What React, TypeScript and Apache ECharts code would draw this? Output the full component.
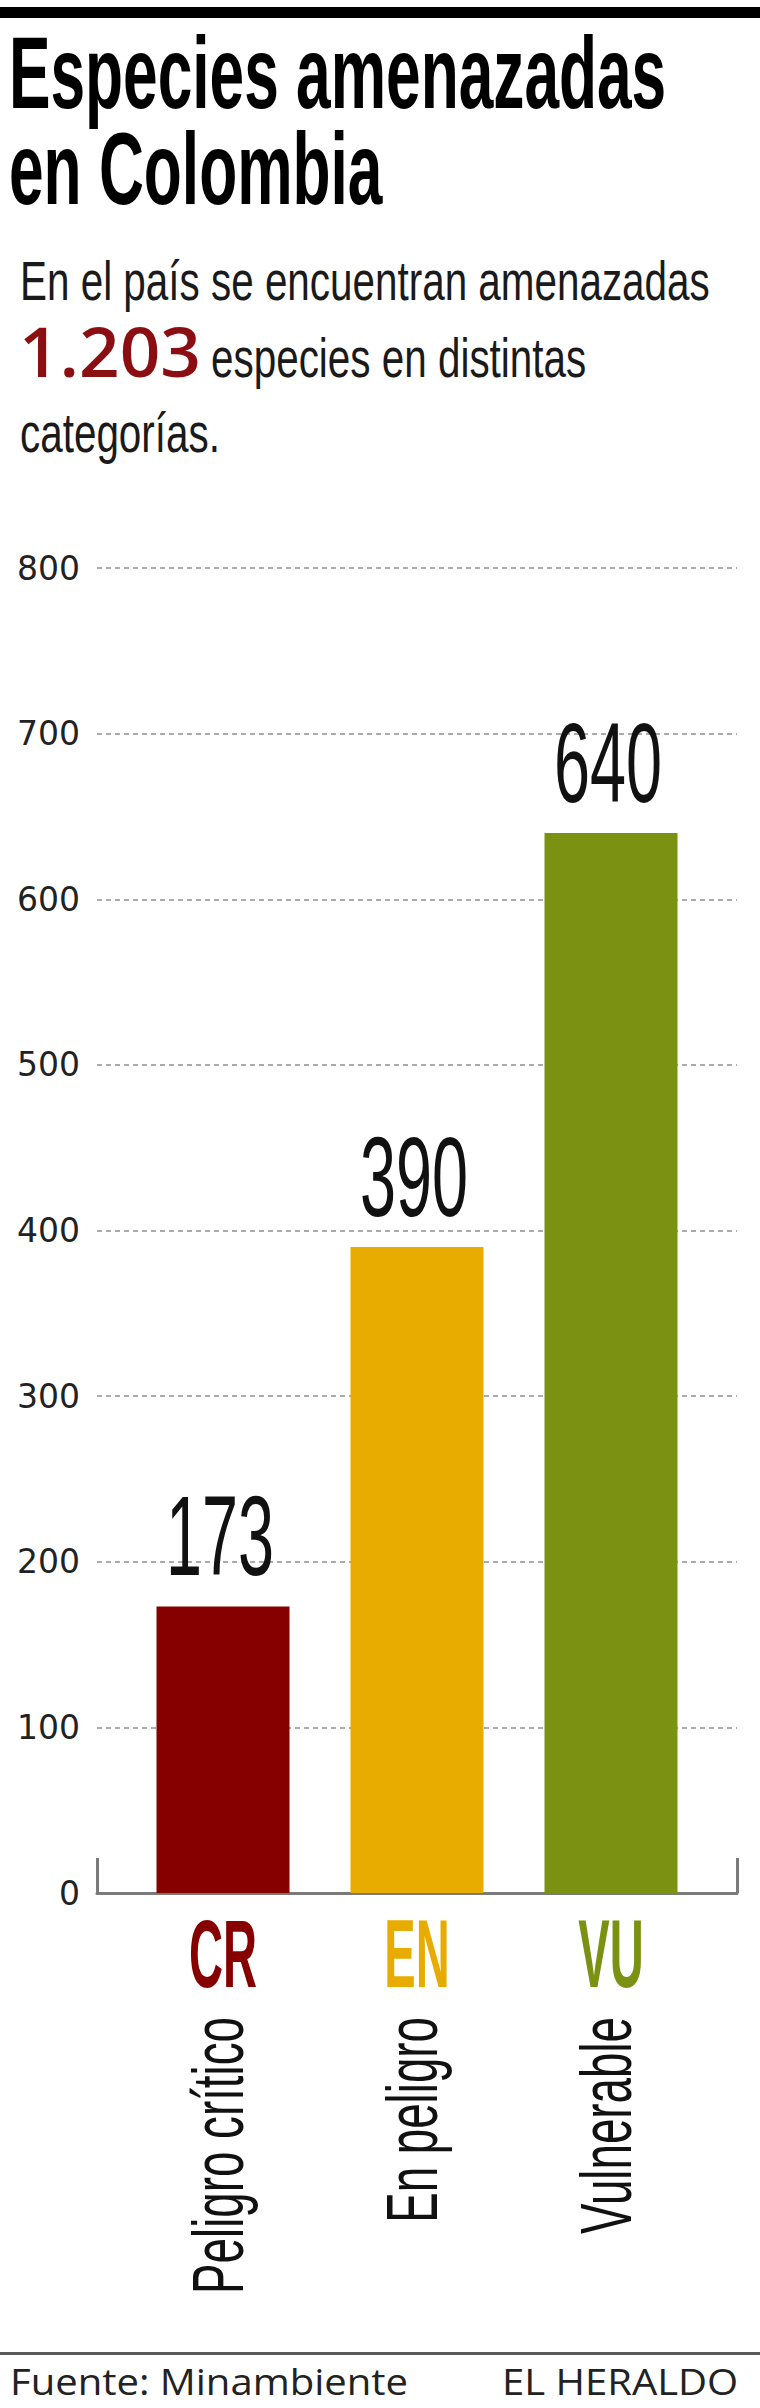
import React, { useEffect, useRef } from 'react';
import * as echarts from 'echarts';

// ---------- data ----------
const TITLE_LINES = ['Especies amenazadas', 'en Colombia'];
const SUB_LINE1 = 'En el país se encuentran amenazadas';
const SUB_TOTAL = '1.203';
const SUB_LINE2 = 'especies en distintas';
const SUB_LINE3 = 'categorías.';
const CODES = ['CR', 'EN', 'VU'];
const NAMES = ['Peligro crítico', 'En peligro', 'Vulnerable'];
const VALUES = [173, 390, 640];
const COLORS = ['#870000', '#E8AC00', '#7B9111'];
const Y_MIN = 0;
const Y_MAX = 800;
const Y_STEP = 100;
const SOURCE = 'Fuente: Minambiente';
const BRAND = 'EL HERALDO';

// ---------- fonts ----------
const LIB = "'Liberation Sans', Arial, sans-serif";
const OPEN = "'Open Sans', 'Noto Sans', sans-serif";

let _ctx: CanvasRenderingContext2D | null = null;
function ctx() {
  if (!_ctx) _ctx = document.createElement('canvas').getContext('2d');
  return _ctx as CanvasRenderingContext2D;
}
function metrics(family: string, weight: string, size: number) {
  const c = ctx();
  c.font = `${weight} ${size}px ${family}`;
  const m: any = c.measureText('H');
  const cap = m.actualBoundingBoxAscent || size * 0.716;
  const fa = m.fontBoundingBoxAscent ?? size * 0.905;
  const fd = m.fontBoundingBoxDescent ?? size * 0.212;
  return { cap, central: (fa - fd) / 2 };
}
function sizeForCap(family: string, weight: string, capH: number) {
  const m = metrics(family, weight, 100);
  return (capH * 100) / m.cap;
}
function textWidth(text: string, family: string, weight: string, size: number) {
  const c = ctx();
  c.font = `${weight} ${size}px ${family}`;
  return c.measureText(text).width;
}
type TS = {
  text: string; family: string; weight: string; capH: number; baseline: number;
  x: number; scale: number; fill: string; align?: string;
};
function makeText(o: TS) {
  const size = sizeForCap(o.family, o.weight, o.capH);
  const m = metrics(o.family, o.weight, size);
  return {
    type: 'text',
    x: o.x,
    y: o.baseline - m.central,
    scaleX: o.scale,
    scaleY: 1,
    silent: true,
    style: {
      text: o.text, fontFamily: o.family, fontWeight: o.weight, fontSize: size,
      fill: o.fill, align: o.align || 'left', verticalAlign: 'middle',
    },
  };
}
function fit(text: string, family: string, weight: string, capH: number, target: number) {
  const size = sizeForCap(family, weight, capH);
  return target / textWidth(text, family, weight, size);
}

export default function App() {
  const ref = useRef<HTMLDivElement>(null);
  useEffect(() => {
    if (!ref.current) return;
    const chart = echarts.init(ref.current, null, { renderer: 'svg', width: 760, height: 2408 });

    // text scales
    const titleScale = fit(TITLE_LINES[0], LIB, 'bold', 72, 657);
    const subScale = fit(SUB_LINE1, LIB, 'normal', 38, 690);
    const totalScale = fit(SUB_TOTAL, OPEN, '600', 50, 182);
    const footScale = fit(SOURCE, OPEN, 'normal', 27, 398);

    // chart label styles
    const valSize = sizeForCap(LIB, 'normal', 78);
    const valM = metrics(LIB, 'normal', valSize);
    const valScale = fit('390', LIB, 'normal', 78, 108);
    const codeSize = sizeForCap(LIB, 'bold', 67);
    const codeM = metrics(LIB, 'bold', codeSize);
    const codeScale = fit('CR', LIB, 'bold', 67, 68);
    const descSize = sizeForCap(LIB, 'normal', 50);
    const descM = metrics(LIB, 'normal', descSize);
    const descScale = fit('En peligro', LIB, 'normal', 50, 206);

    const graphics: any[] = [
      { type: 'rect', shape: { x: 0, y: 7, width: 760, height: 11 }, style: { fill: '#000' }, silent: true },
      makeText({ text: TITLE_LINES[0], family: LIB, weight: 'bold', capH: 72, baseline: 108, x: 9, scale: titleScale, fill: '#000' }),
      makeText({ text: TITLE_LINES[1], family: LIB, weight: 'bold', capH: 72, baseline: 204, x: 9, scale: titleScale, fill: '#000' }),
      makeText({ text: SUB_LINE1, family: LIB, weight: 'normal', capH: 38, baseline: 300, x: 20, scale: subScale, fill: '#1a1a1a' }),
      makeText({ text: SUB_TOTAL, family: OPEN, weight: '600', capH: 50, baseline: 377, x: 19, scale: totalScale, fill: '#8B0E12' }),
      makeText({ text: SUB_LINE2, family: LIB, weight: 'normal', capH: 38, baseline: 377, x: 211, scale: subScale, fill: '#1a1a1a' }),
      makeText({ text: SUB_LINE3, family: LIB, weight: 'normal', capH: 38, baseline: 452, x: 20, scale: subScale, fill: '#1a1a1a' }),
      { type: 'rect', shape: { x: 0, y: 2352, width: 760, height: 3 }, style: { fill: '#5a5a5a' }, silent: true },
      makeText({ text: SOURCE, family: OPEN, weight: 'normal', capH: 27, baseline: 2395, x: 10, scale: footScale, fill: '#222' }),
      makeText({ text: BRAND, family: OPEN, weight: 'normal', capH: 27, baseline: 2395, x: 502, scale: footScale, fill: '#222' }),
    ];

    const option: any = {
      animation: false,
      backgroundColor: '#fff',
      grid: [
        { left: 97, right: 23, top: 568, bottom: 515 },
        { left: 126, right: 52, top: 568, bottom: 515 },
      ],
      xAxis: [
        {
          gridIndex: 0, type: 'category', data: [''], boundaryGap: true,
          axisLine: { show: true, lineStyle: { color: '#7a7a7a', width: 3 } },
          axisTick: { show: true, inside: true, length: 35, lineStyle: { color: '#7a7a7a', width: 3 } },
          axisLabel: { show: false }, splitLine: { show: false },
        },
        { gridIndex: 1, type: 'category', data: CODES, show: false },
      ],
      yAxis: [
        {
          gridIndex: 0, type: 'value', min: Y_MIN, max: Y_MAX, interval: Y_STEP,
          axisLine: { show: false }, axisTick: { show: false },
          axisLabel: { fontFamily: "'DejaVu Sans', sans-serif", fontSize: 33, color: '#222', margin: 17 },
          splitLine: { show: true, lineStyle: { color: '#ababab', width: 2, type: [5, 4] } },
        },
        { gridIndex: 1, type: 'value', min: Y_MIN, max: Y_MAX, interval: Y_STEP, show: false, splitLine: { show: false } },
      ],
      series: [
        {
          type: 'bar', xAxisIndex: 1, yAxisIndex: 1, barWidth: 133, silent: true,
          data: VALUES.map((v, i) => ({ value: v, itemStyle: { color: COLORS[i] } })),
        },
        {
          type: 'custom', xAxisIndex: 1, yAxisIndex: 1, silent: true, clip: false,
          data: VALUES.map((v, i) => [i, v]),
          renderItem: (params: any, api: any) => {
            const i = params.dataIndex;
            const top = api.coord([api.value(0), api.value(1)]);
            const base = api.coord([api.value(0), 0]);
            const cx = top[0];
            return {
              type: 'group',
              children: [
                {
                  type: 'text', x: cx - 3, y: top[1] - 31 - valM.central, scaleX: valScale,
                  style: { text: String(VALUES[i]), fontFamily: LIB, fontWeight: 'normal', fontSize: valSize, fill: '#111', align: 'center', verticalAlign: 'middle' },
                },
                {
                  type: 'text', x: cx, y: base[1] + 95 - codeM.central, scaleX: codeScale,
                  style: { text: CODES[i], fontFamily: LIB, fontWeight: 'bold', fontSize: codeSize, fill: COLORS[i], align: 'center', verticalAlign: 'middle' },
                },
                {
                  type: 'text', x: cx - 5 - descM.central + descM.cap / 2, y: base[1] + 124,
                  rotation: Math.PI / 2, scaleX: descScale,
                  style: { text: NAMES[i], fontFamily: LIB, fontWeight: 'normal', fontSize: descSize, fill: '#111', align: 'right', verticalAlign: 'middle' },
                },
              ],
            };
          },
        },
      ],
      graphic: { elements: graphics },
    };
    chart.setOption(option);
    return () => chart.dispose();
  }, []);
  return (
    <div
      ref={ref}
      style={{ position: 'absolute', left: 0, top: 0, width: 760, height: 2408, background: '#fff' }}
    />
  );
}
